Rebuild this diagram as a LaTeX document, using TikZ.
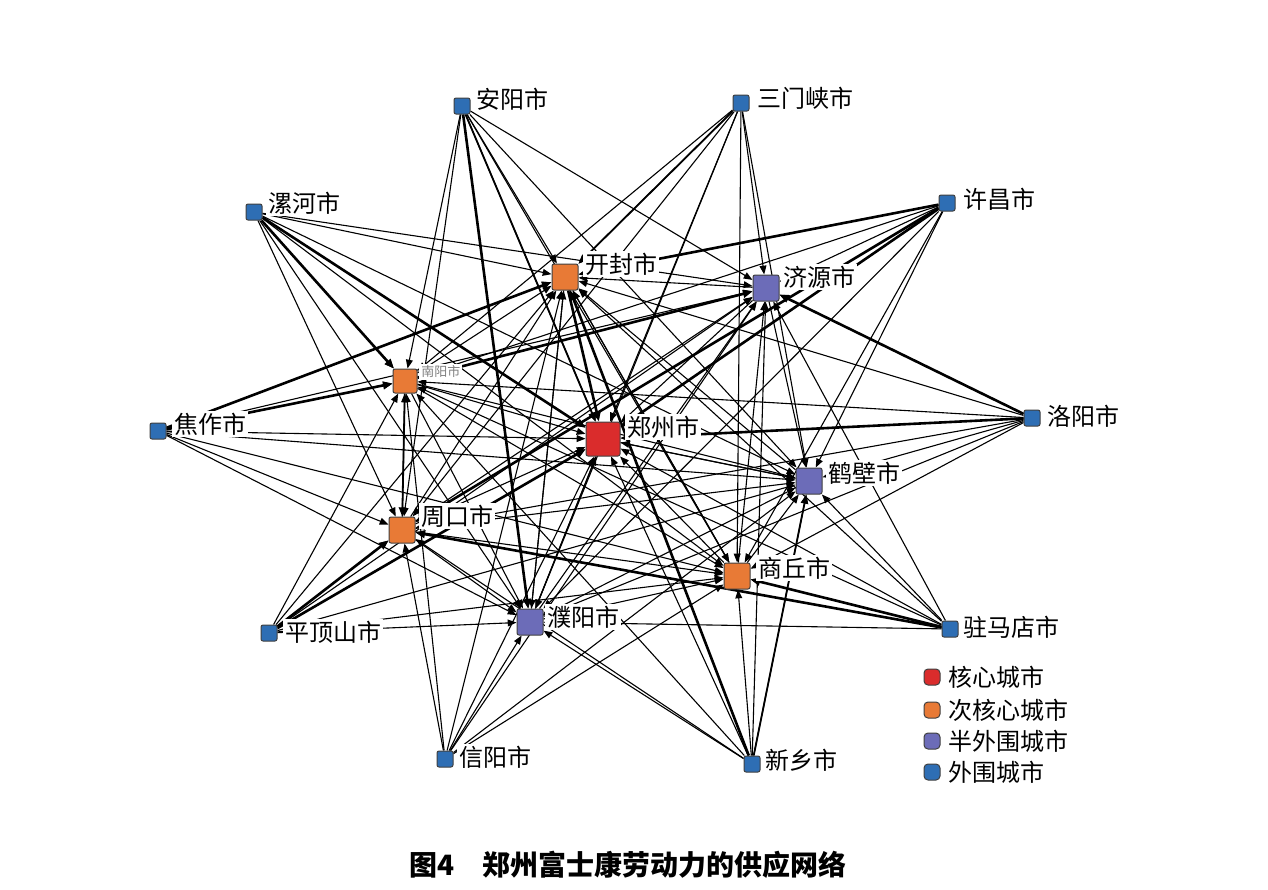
\documentclass[tikz,border=0pt]{standalone}
\usepackage{fontspec}
\newfontfamily\cjk{Noto Sans CJK SC}
\usetikzlibrary{arrows.meta}
\pgfdeclarelayer{bglayer}
\pgfdeclarelayer{edgelayer}
\pgfsetlayers{bglayer,edgelayer,main}
\definecolor{cblue}{RGB}{46,110,180}
\definecolor{corange}{RGB}{232,122,54}
\definecolor{cpurple}{RGB}{108,108,184}
\definecolor{cred}{RGB}{218,44,44}
\tikzset{
  cbox/.style={draw=black!75, line width=0.5pt, rounded corners=1pt, minimum size=#1, inner sep=0pt},
  nouter/.style={cbox=8pt, fill=cblue},
  ncore/.style={cbox=17pt, fill=cred},
  nsub/.style={cbox=13pt, fill=corange},
  nsemi/.style={cbox=13pt, fill=cpurple},
  nlegend/.style={draw=black!75, line width=0.5pt, rounded corners=2pt, minimum size=8pt, inner sep=0pt},
  lab/.style={anchor=west, fill=white, inner sep=1pt, font=\cjk\fontsize{12}{12}\selectfont},
  eline/.style={-{Triangle[length=4.4pt,width=3.4pt]}, line width=0.55pt, black},
  emid/.style={-{Triangle[length=4.6pt,width=3.6pt]}, line width=0.9pt, black},
  ethick/.style={-{Triangle[length=4.8pt,width=3.8pt]}, line width=1.3pt, black},
}
\begin{document}
\begin{tikzpicture}[x=0.5pt,y=-0.5pt]
\useasboundingbox (0,0) rectangle (1268,889);
\begin{pgfonlayer}{bglayer}
\fill[white] (0,0) rectangle (1268,889);
\end{pgfonlayer}
% outer nodes
\node[nouter] (ay) at (462,106) {};
\node[nouter] (smx) at (741,103) {};
\node[nouter] (lh) at (254,212) {};
\node[nouter] (xc) at (947,203) {};
\node[nouter] (jz) at (158,431) {};
\node[nouter] (ly) at (1032,418) {};
\node[nouter] (pds) at (269,633) {};
\node[nouter] (zmd) at (950,629) {};
\node[nouter] (xy) at (445,759) {};
\node[nouter] (xx) at (752,764) {};
% inner nodes
\node[nsub] (kf) at (565,277) {};
\node[nsemi] (jy) at (766,288) {};
\node[nsub,minimum size=12pt] (ny) at (405,381) {};
\node[ncore] (zz) at (603,439) {};
\node[nsemi] (hb) at (809,481) {};
\node[nsub] (zk) at (402,530) {};
\node[nsub] (sq) at (737,576) {};
\node[nsemi] (py) at (530,622) {};
% labels
\node[lab] (tay) at (474,99) {安阳市};
\node[lab] (tsmx) at (755,98) {三门峡市};
\node[lab] (tlh) at (266,203) {漯河市};
\node[lab] (txc) at (961,199) {许昌市};
\node[lab] (tjz) at (172,424) {焦作市};
\node[lab] (tly) at (1045,416) {洛阳市};
\node[lab] (tpds) at (283,632) {平顶山市};
\node[lab] (tzmd) at (961,627) {驻马店市};
\node[lab] (txy) at (457,757) {信阳市};
\node[lab] (txx) at (763,760) {新乡市};
\node[lab] (tkf) at (583,264) {开封市};
\node[lab] (tjy) at (781,277) {济源市};
\node[lab, text=black!50, font=\cjk\fontsize{6.5}{7}\selectfont] (tny) at (419,372) {南阳市};
\node[lab] (tzz) at (625,427) {郑州市};
\node[lab] (thb) at (826,473) {鹤壁市};
\node[lab] (tzk) at (419,516) {周口市};
\node[lab] (tsq) at (756,568) {商丘市};
\node[lab] (tpy) at (545,617) {濮阳市};
% edges
\begin{pgfonlayer}{edgelayer}
\foreach \s in {ay,smx,lh,xc,jz,ly,pds,zmd,xy,xx}
  \foreach \t in {kf,jy,ny,zz,hb,zk,sq,py}
    \draw[eline] (\s) -- (\t);
\foreach \s/\t in {ny/zz,jy/zz,hb/zz,zk/zz,sq/zz,py/zz,
                   jy/kf,ny/kf,zk/kf,sq/kf,py/kf,hb/kf,
                   zk/jy,sq/jy,py/jy,jy/hb,zk/ny,
                   ny/hb,zk/hb,py/hb,sq/hb,
                   ny/sq,zk/sq,py/sq,kf/sq,
                   ny/py,zk/py,kf/py,zz/hb,zz/py}
  \draw[eline] (\s) -- (\t);
\foreach \s/\t in {xx/hb,ay/zz,ny/zk,smx/kf}
  \draw[emid] (\s) -- (\t);
\foreach \s/\t in {xc/kf,xc/zz,xc/zk,jz/kf,jz/ny,lh/ny,lh/zz,ly/jy,ly/zz,
                   pds/zk,pds/zz,zmd/zk,zmd/sq,xx/kf,ay/py,kf/zz,ny/jy}
  \draw[ethick] (\s) -- (\t);
\end{pgfonlayer}
% legend
\node[nlegend, fill=cred] (l1) at (932,677) {};
\node[lab, fill=none] (tl1) at (946,677) {核心城市};
\node[nlegend, fill=corange] (l2) at (932,710) {};
\node[lab, fill=none] (tl2) at (946,710) {次核心城市};
\node[nlegend, fill=cpurple] (l3) at (932,741) {};
\node[lab, fill=none] (tl3) at (946,741) {半外围城市};
\node[nlegend, fill=cblue] (l4) at (932,772) {};
\node[lab, fill=none] (tl4) at (946,772) {外围城市};
% caption
\node[font=\cjk\bfseries\fontsize{14}{15}\selectfont, inner sep=0pt] (cap) at (628,865) {图4\hspace{1em}郑州富士康劳动力的供应网络};
\end{tikzpicture}
\end{document}
